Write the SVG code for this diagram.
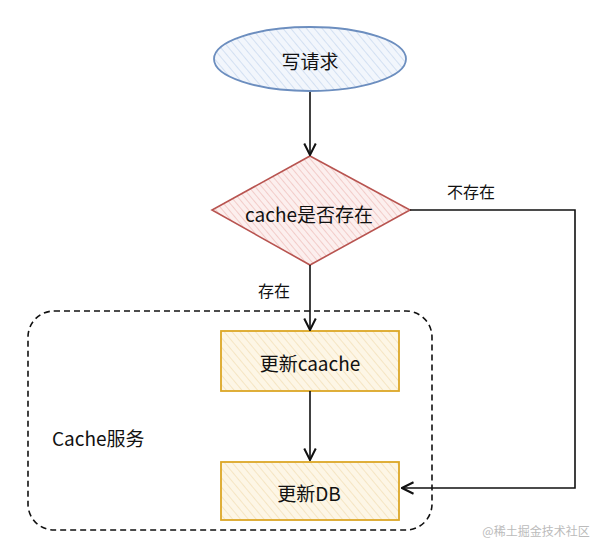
<svg xmlns="http://www.w3.org/2000/svg" width="598" height="544" viewBox="0 0 598 544">
<style>
text{font-family:"Noto Sans CJK SC","Noto Sans",sans-serif;fill:#111;}
.lbl{font-size:19px;text-anchor:middle;dominant-baseline:central;}
.edge{font-size:16px;text-anchor:middle;dominant-baseline:central;}
.conn{fill:none;stroke:#111;stroke-width:1.6;}
</style>
<defs>
<pattern id="hb" width="6" height="6" patternUnits="userSpaceOnUse" patternTransform="rotate(-40)">
<rect width="6" height="6" fill="#f2f6fc"/><line x1="0" y1="0" x2="0" y2="6" stroke="#c2d4ee" stroke-width="1.3"/>
</pattern>
<pattern id="hr" width="5" height="5" patternUnits="userSpaceOnUse" patternTransform="rotate(-40)">
<rect width="5" height="5" fill="#fcefee"/><line x1="0" y1="0" x2="0" y2="5" stroke="#eebab6" stroke-width="1.3"/>
</pattern>
<pattern id="hy" width="6" height="6" patternUnits="userSpaceOnUse" patternTransform="rotate(-40)">
<rect width="6" height="6" fill="#fdf6e6"/><line x1="0" y1="0" x2="0" y2="6" stroke="#f2dcb0" stroke-width="1.3"/>
</pattern>
<marker id="arr" viewBox="0 0 10 10" refX="9" refY="5" markerWidth="9" markerHeight="9" orient="auto-start-reverse">
<path d="M1,1 L9,5 L1,9" fill="none" stroke="#111" stroke-width="1.4"/>
</marker>
</defs>
<g id="group-cache-service">
<rect x="28" y="311" width="404" height="219" rx="26" fill="none" stroke="#111" stroke-width="1.6" stroke-dasharray="6 4"/>
<text x="52" y="437" style="font-size:19px;dominant-baseline:central;">Cache服务</text>
</g>
<g id="node-write">
<ellipse cx="310" cy="59" rx="96" ry="32" fill="url(#hb)" stroke="#6c8ebf" stroke-width="1.8"/>
<text class="lbl" x="310" y="60">写请求</text>
</g>
<g id="node-check">
<polygon points="310,156 410,210 310,265 212,210" fill="url(#hr)" stroke="#b85450" stroke-width="1.6"/>
<text class="lbl" x="309" y="213">cache是否存在</text>
</g>
<g id="node-update-cache">
<rect x="221" y="331" width="178" height="60" fill="url(#hy)" stroke="#dca726" stroke-width="1.8"/>
<text class="lbl" x="310" y="362">更新caache</text>
</g>
<g id="node-update-db">
<rect x="221" y="462" width="178" height="58" fill="url(#hy)" stroke="#dca726" stroke-width="1.8"/>
<text class="lbl" x="309" y="492">更新DB</text>
</g>
<g id="connectors">
<path class="conn" d="M310,92 L310,155" marker-end="url(#arr)"/>
<path class="conn" d="M310,265 L310,330" marker-end="url(#arr)"/>
<path class="conn" d="M310,391 L310,460" marker-end="url(#arr)"/>
<path class="conn" d="M410,210 L575,210 L575,488 L402,488" marker-end="url(#arr)"/>
<text class="edge" x="471" y="191">不存在</text>
<text class="edge" x="274" y="290">存在</text>
</g>
<text x="536" y="530" style="font-size:12px;fill:#bbb;text-anchor:middle;dominant-baseline:central;">@稀土掘金技术社区</text>
</svg>
